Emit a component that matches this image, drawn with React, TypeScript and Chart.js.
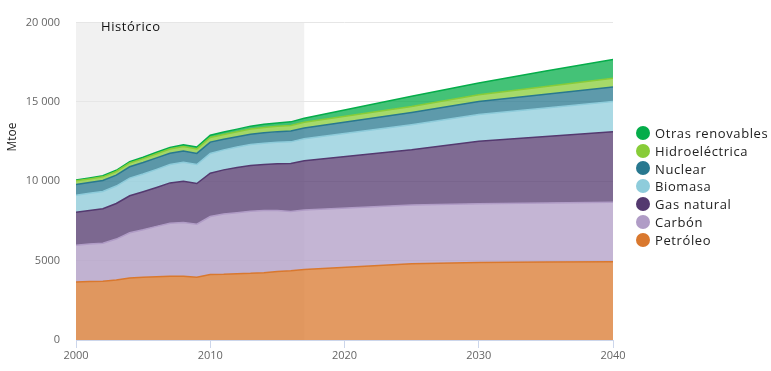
import React, { useEffect, useRef } from "react";
import { Chart, registerables } from "chart.js";

Chart.register(...registerables);

const years = [2000, 2001, 2002, 2003, 2004, 2005, 2006, 2007, 2008, 2009, 2010, 2011, 2012, 2013, 2014, 2015, 2016, 2017, 2025, 2030, 2035, 2040];

const petroleo = [3660, 3680, 3700, 3780, 3910, 3950, 3990, 4020, 4010, 3950, 4130, 4140, 4180, 4200, 4240, 4320, 4360, 4435, 4800, 4880, 4910, 4926];
const carbon = [2316, 2370, 2400, 2580, 2850, 3000, 3170, 3340, 3400, 3350, 3650, 3800, 3840, 3910, 3920, 3840, 3740, 3750, 3710, 3700, 3720, 3751];
const gasNatural = [2071, 2110, 2170, 2240, 2330, 2390, 2450, 2540, 2600, 2560, 2730, 2780, 2850, 2890, 2900, 2950, 3020, 3107, 3480, 3950, 4190, 4440];
const biomasa = [1080, 1080, 1090, 1100, 1110, 1120, 1140, 1160, 1190, 1200, 1240, 1260, 1290, 1320, 1340, 1350, 1365, 1385, 1580, 1680, 1800, 1915];
const nuclear = [675, 690, 695, 690, 715, 720, 725, 710, 710, 700, 719, 674, 642, 646, 660, 670, 680, 688, 760, 815, 870, 916];
const hidro = [225, 222, 227, 230, 240, 250, 260, 265, 275, 280, 296, 300, 315, 325, 335, 335, 345, 353, 390, 430, 490, 550];
const otras = [60, 63, 68, 74, 80, 87, 94, 102, 112, 123, 140, 155, 170, 185, 200, 215, 235, 254, 640, 740, 970, 1180];

const seriesNames = ["Petróleo", "Carbón", "Gas natural", "Biomasa", "Nuclear", "Hidroeléctrica", "Otras renovables"];
const seriesValues = [petroleo, carbon, gasNatural, biomasa, nuclear, hidro, otras];
const seriesColors = ["#d9782e", "#b09cc6", "#54396f", "#8eccdb", "#28788f", "#88cc38", "#05ad4a"];

const yTicks = [0, 5000, 10000, 15000, 20000];
const yTickLabels = ["0", "5000", "10 000", "15 000", "20 000"];
const historicStart = 2000;
const historicEnd = 2017;
const historicLabel = "Histórico";
const yTitle = "Mtoe";

function hexToRgba(hex: string, a: number) {
  const n = parseInt(hex.slice(1), 16);
  return `rgba(${(n >> 16) & 255},${(n >> 8) & 255},${n & 255},${a})`;
}

const bandPlugin = {
  id: "historicBand",
  beforeDraw(chart: any) {
    const { ctx, chartArea, scales } = chart;
    const x0 = scales.x.getPixelForValue(historicStart);
    const x1 = scales.x.getPixelForValue(historicEnd);
    ctx.save();
    ctx.fillStyle = "#f1f1f1";
    ctx.fillRect(x0, chartArea.top, x1 - x0, chartArea.bottom - chartArea.top);
    ctx.restore();
  },
  afterDraw(chart: any) {
    const { ctx } = chart;
    ctx.save();
    ctx.fillStyle = "#111";
    ctx.font = "13px 'Open Sans'";
    (ctx as any).letterSpacing = "0.6px";
    ctx.textBaseline = "alphabetic";
    ctx.textAlign = "left";
    ctx.fillText(historicLabel, 101, 31);
    (ctx as any).letterSpacing = "0px";
    ctx.translate(16, 137);
    ctx.rotate(-Math.PI / 2);
    ctx.textAlign = "center";
    ctx.font = "12px 'Open Sans'";
    ctx.fillStyle = "#222";
    ctx.fillText(yTitle, 0, 0);
    ctx.restore();
  },
};

export default function App() {
  const ref = useRef<HTMLCanvasElement | null>(null);

  useEffect(() => {
    if (!ref.current) return;
    const datasets = seriesNames.map((name, i) => ({
      label: name,
      data: years.map((yr, j) => ({ x: yr, y: seriesValues[i][j] })),
      borderColor: seriesColors[i],
      backgroundColor: hexToRgba(seriesColors[i], 0.75),
      borderWidth: 1.5,
      pointRadius: 0,
      tension: 0,
      fill: i === 0 ? "origin" : "-1",
    }));
    const chart = new Chart(ref.current, {
      type: "line",
      data: { datasets },
      options: {
        responsive: false,
        animation: false,
        devicePixelRatio: 1,
        layout: { padding: { left: 0, top: 12, right: 158, bottom: 0 } },
        plugins: { legend: { display: false }, tooltip: { enabled: false } },
        scales: {
          x: {
            type: "linear",
            min: 2000,
            max: 2040,
            ticks: {
              stepSize: 10,
              color: "#666",
              font: { family: "'Open Sans'", size: 11 },
              padding: 1,
              maxRotation: 0,
              callback: (v: any) => String(v),
            },
            grid: { drawOnChartArea: false, drawTicks: true, tickLength: 8, color: "#ccd6eb" },
            border: { display: true, color: "#ccd6eb" },
            afterFit: (s: any) => {
              s.height = 31;
            },
          },
          y: {
            stacked: true,
            min: 0,
            max: 20000,
            afterBuildTicks: (s: any) => {
              s.ticks = yTicks.map((v) => ({ value: v }));
            },
            ticks: {
              color: "#666",
              font: { family: "'Open Sans'", size: 11 },
              padding: 16,
              callback: (v: any) => {
                const k = yTicks.indexOf(Number(v));
                return k >= 0 ? yTickLabels[k] : "";
              },
            },
            grid: { color: "#e6e6e6", drawTicks: false },
            border: { display: false },
            afterFit: (s: any) => {
              s.width = 76;
            },
          },
        },
      },
      plugins: [bandPlugin],
    } as any);
    return () => chart.destroy();
  }, []);

  const legendOrder = [6, 5, 4, 3, 2, 1, 0];

  return (
    <div style={{ position: "absolute", left: 0, top: 0, width: 771, height: 371, background: "#fff" }}>
      <canvas ref={ref} width={771} height={371} style={{ display: "block" }} />
      <div style={{ position: "absolute", left: 636, top: 124 }}>
        {legendOrder.map((i) => (
          <div key={i} style={{ display: "flex", alignItems: "center", height: 17.8 }}>
            <span
              style={{
                display: "inline-block",
                width: 14,
                height: 14,
                borderRadius: "50%",
                background: seriesColors[i],
                marginRight: 5,
              }}
            />
            <span style={{ fontFamily: "'Open Sans'", fontSize: 13, letterSpacing: "0.6px", color: "#222", whiteSpace: "nowrap" }}>
              {seriesNames[i]}
            </span>
          </div>
        ))}
      </div>
    </div>
  );
}
